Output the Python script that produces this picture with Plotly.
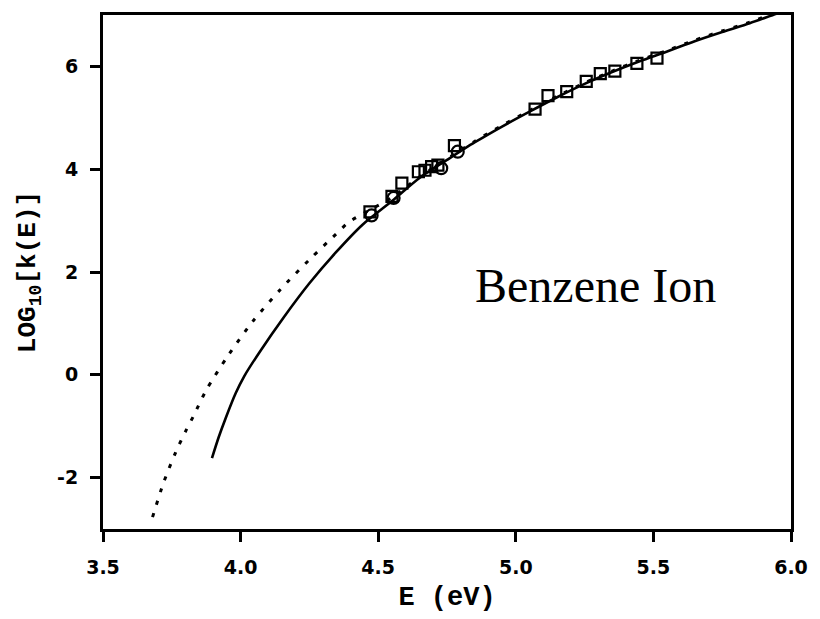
import plotly.graph_objects as go

# Model curve (solid): log10 k(E) versus internal energy E (eV)
solid_E = [3.896, 3.92, 3.946, 3.982, 4.014, 4.07, 4.157, 4.25, 4.346, 4.443,
           4.55, 4.65, 4.75, 4.85, 4.95, 5.05, 5.15, 5.25, 5.35, 5.45,
           5.55, 5.65, 5.75, 5.85, 5.95, 6.0]
solid_logk = [-1.62, -1.22, -0.84, -0.36, -0.02, 0.45, 1.12, 1.78, 2.38, 2.92,
              3.38, 3.83, 4.18, 4.52, 4.83, 5.12, 5.40, 5.66, 5.89, 6.10,
              6.29, 6.49, 6.67, 6.84, 7.03, 7.12]

# Alternative model curve (dotted)
dotted_E = [3.68, 3.72, 3.764, 3.80, 3.829, 3.875, 3.954, 4.043, 4.143, 4.25,
            4.357, 4.393, 4.45, 4.55, 4.65, 4.75, 4.85, 4.95, 5.05, 5.15,
            5.25, 5.35, 5.45, 5.55, 5.65, 5.75, 5.85, 5.95, 6.0]
dotted_logk = [-2.77, -2.10, -1.51, -1.10, -0.80, -0.30, 0.37, 1.03, 1.65, 2.24,
               2.79, 2.97, 3.15, 3.45, 3.85, 4.20, 4.54, 4.85, 5.14, 5.42,
               5.68, 5.91, 6.12, 6.31, 6.51, 6.69, 6.86, 7.06, 7.15]

# Measured rates, square symbols
sq_E = [4.47, 4.55, 4.586, 4.646, 4.67, 4.694, 4.717, 4.777,
        5.07, 5.117, 5.185, 5.256, 5.307, 5.36, 5.44, 5.513]
sq_logk = [3.17, 3.47, 3.73, 3.95, 3.98, 4.05, 4.08, 4.46,
           5.17, 5.43, 5.51, 5.71, 5.86, 5.91, 6.06, 6.16]

# Measured rates, circle symbols
ci_E = [4.476, 4.556, 4.729, 4.789]
ci_logk = [3.10, 3.44, 4.02, 4.34]

x_ticks = [3.5, 4.0, 4.5, 5.0, 5.5, 6.0]
x_ticklabels = ["3.5", "4.0", "4.5", "5.0", "5.5", "6.0"]
y_ticks = [-2, 0, 2, 4, 6]
y_ticklabels = ["-2", "0", "2", "4", "6"]

fig = go.Figure()

fig.add_trace(go.Scatter(
    x=dotted_E, y=dotted_logk, mode="lines",
    line=dict(color="black", width=3, dash="4px,9px", shape="spline", smoothing=0.8),
    showlegend=False, hoverinfo="skip"))

fig.add_trace(go.Scatter(
    x=solid_E, y=solid_logk, mode="lines",
    line=dict(color="black", width=2.6, shape="spline", smoothing=0.8),
    showlegend=False, hoverinfo="skip"))

fig.add_trace(go.Scatter(
    x=sq_E, y=sq_logk, mode="markers",
    marker=dict(symbol="square-open", size=11, color="black", line=dict(width=2.2, color="black")),
    showlegend=False))

fig.add_trace(go.Scatter(
    x=ci_E, y=ci_logk, mode="markers",
    marker=dict(symbol="circle-open", size=12, color="black", line=dict(width=2.2, color="black")),
    showlegend=False))

fig.add_annotation(
    x=5.29, y=1.74, xref="x", yref="y", text="Benzene Ion", showarrow=False,
    font=dict(family="Liberation Serif", size=48, color="black"))

axis_common = dict(
    showgrid=False, zeroline=False, showline=True, linecolor="black", linewidth=3,
    mirror=True, ticks="outside", ticklen=10, tickwidth=2.5, tickcolor="black",
    tickfont=dict(family="DejaVu Sans", size=19, color="black", weight="bold"),
)

fig.update_xaxes(
    range=[3.5, 6.0], tickvals=x_ticks, ticktext=x_ticklabels,
    ticklabelstandoff=9,
    title=dict(text="E (eV)", standoff=10,
               font=dict(family="Liberation Mono", size=27, color="black", weight="bold")),
    **axis_common)

fig.update_yaxes(
    range=[-3, 7], tickvals=y_ticks, ticktext=y_ticklabels,
    ticklabelstandoff=8,
    title=dict(text="LOG<sub>10</sub>[k(E)]", standoff=14,
               font=dict(family="Liberation Mono", size=26, color="black", weight="bold")),
    **axis_common)

fig.update_layout(
    width=820, height=619,
    margin=dict(l=103, r=19, t=13, b=84),
    plot_bgcolor="white", paper_bgcolor="white",
)

fig.write_html("out.html")
